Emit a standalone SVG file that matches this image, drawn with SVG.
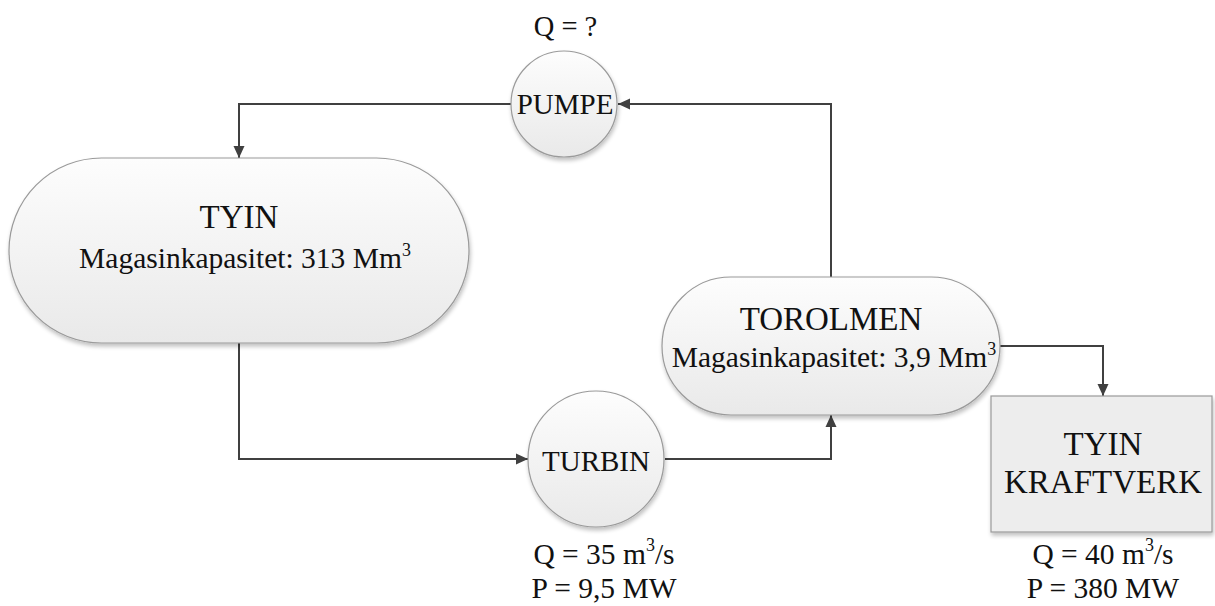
<svg xmlns="http://www.w3.org/2000/svg" width="1215" height="606" viewBox="0 0 1215 606">
<defs>
<linearGradient id="g" x1="0" y1="0" x2="0" y2="1">
<stop offset="0" stop-color="#fdfdfd"/>
<stop offset="1" stop-color="#e9e9e9"/>
</linearGradient>
<filter id="sh" x="-10%" y="-10%" width="120%" height="130%">
<feGaussianBlur in="SourceAlpha" stdDeviation="2"/>
<feOffset dx="1" dy="3"/>
<feComponentTransfer><feFuncA type="linear" slope="0.25"/></feComponentTransfer>
<feMerge><feMergeNode/><feMergeNode in="SourceGraphic"/></feMerge>
</filter>
<marker id="ah" markerWidth="12" markerHeight="12" viewBox="0 0 12 12" refX="12" refY="6" orient="auto" markerUnits="userSpaceOnUse">
<path d="M0,0.5 L12,6 L0,11.5 Z" fill="#404040"/>
</marker>
</defs>
<style>
.shape{fill:url(#g);stroke:#9a9a9a;stroke-width:1.2;filter:url(#sh)}
.box{fill:#ededed;stroke:#9a9a9a;stroke-width:1.2;filter:url(#sh)}
text{font-family:'Liberation Serif','DejaVu Serif',serif;fill:#111;text-anchor:middle}
.c{fill:none;stroke:#404040;stroke-width:2;marker-end:url(#ah)}
</style>
<g id="connectors">
<path class="c" d="M511,104 H239 V158"/>
<path class="c" d="M239,343 V459 H528"/>
<path class="c" d="M665,459 H831 V415"/>
<path class="c" d="M831,277 V104 H618"/>
<path class="c" d="M1000,346 H1103 V396"/>
</g>
<g id="pumpe">
<circle class="shape" cx="564" cy="104" r="53"/>
<text x="565" y="114" font-size="29">PUMPE</text>
<text x="565.5" y="36" font-size="28.5">Q = ?</text>
</g>
<g id="tyin">
<rect class="shape" x="9" y="158" width="460" height="185" rx="92.5" ry="92.5"/>
<text x="239" y="228" font-size="33">TYIN</text>
<text x="245" y="268" font-size="29.5">Magasinkapasitet: 313 Mm<tspan font-size="18" dy="-12">3</tspan></text>
</g>
<g id="turbin">
<circle class="shape" cx="596" cy="459" r="68"/>
<text x="596" y="471" font-size="29">TURBIN</text>
<text x="604" y="564" font-size="29.5">Q = 35 m<tspan font-size="18" dy="-13">3</tspan><tspan dy="13">/s</tspan></text>
<text x="604" y="598" font-size="29.5">P = 9,5 MW</text>
</g>
<g id="torolmen">
<rect class="shape" x="662" y="277" width="338" height="138" rx="69" ry="69"/>
<text x="831" y="330" font-size="33">TOROLMEN</text>
<text x="834" y="367" font-size="29.5">Magasinkapasitet: 3,9 Mm<tspan font-size="18" dy="-12">3</tspan></text>
</g>
<g id="kraftverk">
<rect class="box" x="991" y="396" width="221" height="136"/>
<text x="1103" y="455" font-size="33">TYIN</text>
<text x="1103" y="493" font-size="33">KRAFTVERK</text>
<text x="1103" y="564" font-size="29.5">Q = 40 m<tspan font-size="18" dy="-13">3</tspan><tspan dy="13">/s</tspan></text>
<text x="1103" y="598" font-size="29.5">P = 380 MW</text>
</g>
</svg>
